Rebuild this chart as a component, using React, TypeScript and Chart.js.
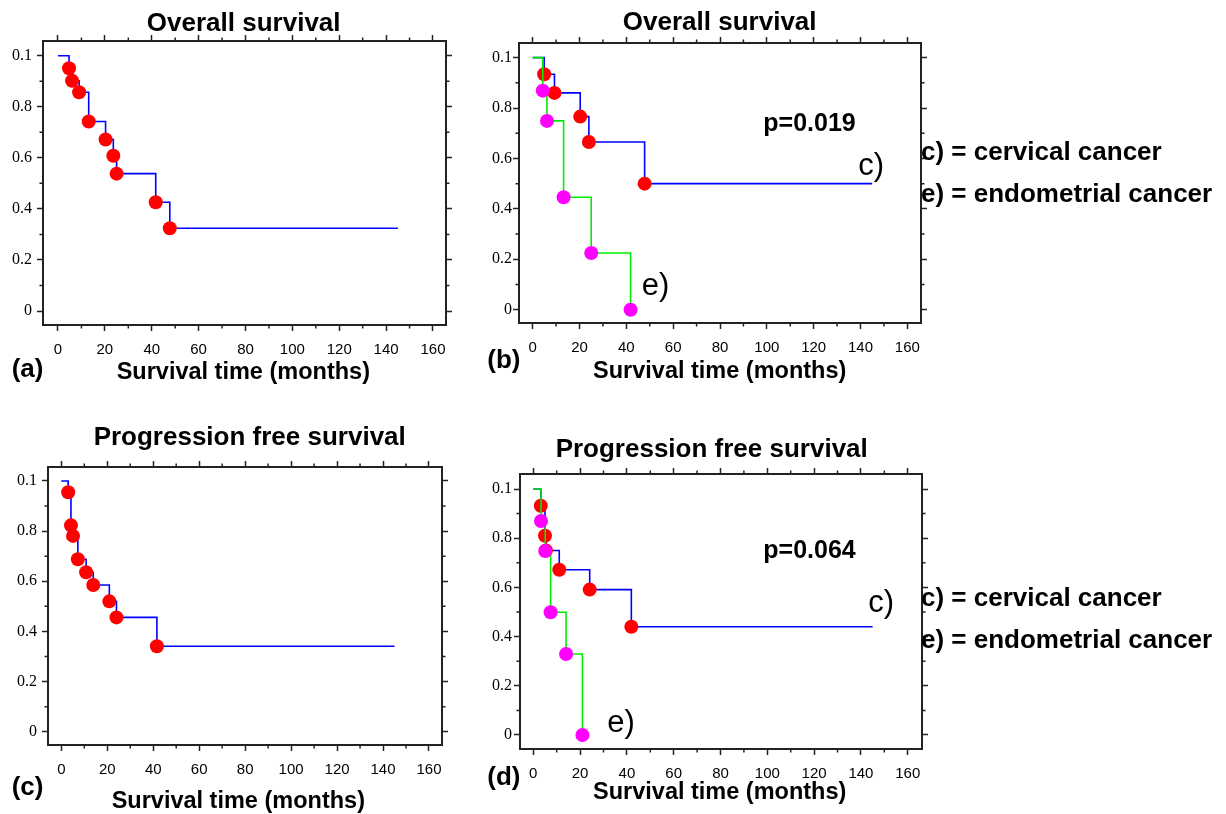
import React, { useEffect, useRef } from 'react';
import { Chart, registerables } from 'chart.js';

Chart.register(...registerables);

// ---------- data ----------
const xTickValues = [0, 20, 40, 60, 80, 100, 120, 140, 160];
const xTickLabels = ['0', '20', '40', '60', '80', '100', '120', '140', '160'];
const xMinorTicks = [10, 30, 50, 70, 90, 110, 130, 150];
const yTickValues = [0, 0.2, 0.4, 0.6, 0.8, 1];
const yTickLabels = ['0', '0.2', '0.4', '0.6', '0.8', '0.1'];
const yMinorTicks = [0.1, 0.3, 0.5, 0.7, 0.9];
const followUpEnd = 145;

// (a) overall survival, all patients
const osAllTimes = [4.7, 6.0, 9.0, 13.1, 20.3, 23.6, 25.0, 41.7, 47.7];
const osAllSurv = [0.951, 0.902, 0.857, 0.742, 0.672, 0.608, 0.538, 0.426, 0.324];
// (b) overall survival by group
const osCervTimes = [4.9, 9.3, 20.3, 24.0, 47.8];
const osCervSurv = [0.934, 0.86, 0.766, 0.665, 0.5];
const osEndoTimes = [4.3, 6.1, 13.2, 25.0, 41.8];
const osEndoSurv = [0.869, 0.749, 0.446, 0.225, 0];
// (c) progression free survival, all patients
const pfsAllTimes = [3.0, 4.2, 5.1, 7.2, 10.8, 13.9, 20.9, 24.0, 41.6];
const pfsAllSurv = [0.955, 0.823, 0.781, 0.688, 0.636, 0.585, 0.52, 0.456, 0.341];
// (d) progression free survival by group
const pfsCervTimes = [3.2, 5.0, 5.4, 11.1, 24.1, 41.9];
const pfsCervSurv = [0.932, 0.81, 0.75, 0.672, 0.591, 0.44];
const pfsEndoTimes = [3.3, 5.1, 7.4, 14.0, 21.0];
const pfsEndoSurv = [0.87, 0.748, 0.499, 0.329, 0];

const panelTitles = ['Overall survival', 'Overall survival', 'Progression free survival', 'Progression free survival'];
const xAxisTitle = 'Survival time (months)';
const panelLetters = ['(a)', '(b)', '(c)', '(d)'];
const pValues = ['p=0.019', 'p=0.064'];
const groupTags = ['c)', 'e)'];
const legendLines = ['c) = cervical cancer', 'e) = endometrial cancer'];

// ---------- styles ----------
const SANS = "'Liberation Sans', Arial, Helvetica, sans-serif";
const SERIF = "'Liberation Serif', 'Times New Roman', serif";
const AXIS_COLOR = '#222';
const BLUE = '#0000ff';
const GREEN = '#00ee00';
const RED = '#ff0000';
const MAGENTA = '#ff00ff';
const DOT_R = 7;

type Pt = { x: number; y: number };

function kmData(times: number[], surv: number[], tail: boolean): Pt[] {
  const pts: Pt[] = [{ x: 0, y: 1 }];
  times.forEach((t, i) => pts.push({ x: t, y: surv[i] }));
  if (tail) pts.push({ x: followUpEnd, y: surv[surv.length - 1] });
  return pts;
}

function kmDataset(times: number[], surv: number[], tail: boolean, line: string, dot: string, order: number) {
  const n = times.length;
  return {
    data: kmData(times, surv, tail),
    stepped: 'before' as const,
    borderColor: line,
    borderWidth: 1.6,
    backgroundColor: dot,
    pointBackgroundColor: dot,
    pointBorderWidth: 0,
    pointBorderColor: dot,
    pointRadius: (ctx: any) => (ctx.dataIndex === 0 || ctx.dataIndex > n ? 0 : DOT_R),
    pointHoverRadius: (ctx: any) => (ctx.dataIndex === 0 || ctx.dataIndex > n ? 0 : DOT_R),
    fill: false,
    order,
  };
}

type PanelCfg = {
  left: number; top: number; width: number; height: number;
  area: { left: number; right: number; top: number; bottom: number };
  x: [number, number]; y: [number, number];
  yPad: number;
  idx: number;
  title: Pt; xTitle: Pt; letter: Pt;
  p?: Pt; cTag?: Pt; eTag?: Pt; legend?: { x: number; y1: number; y2: number };
  datasets: any[];
};

const panels: PanelCfg[] = [
  {
    idx: 0, left: 0, top: 0, width: 470, height: 400,
    area: { left: 43, right: 446, top: 41, bottom: 325 },
    x: [-6.4, 165.55], y: [-0.0548, 1.0576], yPad: 5,
    title: { x: 243.7, y: 30.5 }, xTitle: { x: 243.3, y: 379 }, letter: { x: 11.7, y: 377 },
    datasets: [kmDataset(osAllTimes, osAllSurv, true, BLUE, RED, 1)],
  },
  {
    idx: 1, left: 470, top: 0, width: 756, height: 400,
    area: { left: 49, right: 451, top: 43, bottom: 323 },
    x: [-5.85, 165.85], y: [-0.0528, 1.058], yPad: 1,
    title: { x: 249.7, y: 30 }, xTitle: { x: 249.7, y: 378 }, letter: { x: 17.3, y: 368 },
    p: { x: 293.3, y: 130.7 }, cTag: { x: 388.3, y: 175 }, eTag: { x: 171.7, y: 295 },
    legend: { x: 451, y1: 152.5, y2: 195 },
    datasets: [
      kmDataset(osCervTimes, osCervSurv, true, BLUE, RED, 1),
      kmDataset(osEndoTimes, osEndoSurv, false, GREEN, MAGENTA, 0),
    ],
  },
  {
    idx: 2, left: 0, top: 400, width: 470, height: 414,
    area: { left: 48, right: 442, top: 67, bottom: 345 },
    x: [-5.79, 165.66], y: [-0.053, 1.0558], yPad: 5,
    title: { x: 249.7, y: 45 }, xTitle: { x: 238.3, y: 408 }, letter: { x: 11.7, y: 395 },
    datasets: [kmDataset(pfsAllTimes, pfsAllSurv, true, BLUE, RED, 1)],
  },
  {
    idx: 3, left: 470, top: 400, width: 756, height: 414,
    area: { left: 50, right: 452, top: 74, bottom: 349 },
    x: [-5.68, 166.1], y: [-0.057, 1.061], yPad: 2,
    title: { x: 241.7, y: 57.3 }, xTitle: { x: 249.7, y: 399.3 }, letter: { x: 17.3, y: 385 },
    p: { x: 293.3, y: 158.3 }, cTag: { x: 398.3, y: 211.7 }, eTag: { x: 137.3, y: 331.7 },
    legend: { x: 451, y1: 199, y2: 241 },
    datasets: [
      kmDataset(pfsCervTimes, pfsCervSurv, true, BLUE, RED, 1),
      kmDataset(pfsEndoTimes, pfsEndoSurv, false, GREEN, MAGENTA, 0),
    ],
  },
];

function setTicks(values: number[]) {
  return (scale: any) => {
    scale.ticks = values.map((v) => ({ value: v }));
  };
}

function fixSize(kind: 'w' | 'h', size: number) {
  return (scale: any) => {
    if (kind === 'w') scale.width = size;
    else scale.height = size;
    scale.paddingLeft = 0;
    scale.paddingRight = 0;
    scale.paddingTop = 0;
    scale.paddingBottom = 0;
  };
}

const gridOpts = {
  display: true,
  drawOnChartArea: false,
  drawTicks: true,
  tickLength: 6,
  tickWidth: 1.5,
  tickColor: AXIS_COLOR,
  color: AXIS_COLOR,
};
const borderOpts = { display: true, width: 2, color: AXIS_COLOR };

function buildOptions(cfg: PanelCfg): any {
  const a = cfg.area;
  return {
    responsive: false,
    maintainAspectRatio: false,
    animation: false,
    devicePixelRatio: 1,
    layout: { padding: 0 },
    events: [],
    plugins: { legend: { display: false }, title: { display: false }, tooltip: { enabled: false } },
    scales: {
      x: {
        type: 'linear', position: 'bottom', min: cfg.x[0], max: cfg.x[1],
        afterBuildTicks: setTicks(xTickValues),
        afterFit: fixSize('h', cfg.height - a.bottom),
        grid: gridOpts, border: borderOpts,
        ticks: {
          autoSkip: false, maxRotation: 0, minRotation: 0, padding: 10, color: '#000',
          font: { family: SANS, size: 15 },
          callback: (_v: number, i: number) => xTickLabels[i],
        },
      },
      x2: {
        type: 'linear', axis: 'x', position: 'top', min: cfg.x[0], max: cfg.x[1],
        afterBuildTicks: setTicks(xTickValues),
        afterFit: fixSize('h', a.top),
        grid: gridOpts, border: borderOpts,
        ticks: { display: false },
      },
      y: {
        type: 'linear', position: 'left', min: cfg.y[0], max: cfg.y[1],
        afterBuildTicks: setTicks(yTickValues),
        afterFit: fixSize('w', a.left),
        grid: gridOpts, border: borderOpts,
        ticks: {
          autoSkip: false, padding: cfg.yPad, color: '#000',
          font: { family: SERIF, size: 16 },
          callback: (_v: number, i: number) => yTickLabels[i],
        },
      },
      y2: {
        type: 'linear', axis: 'y', position: 'right', min: cfg.y[0], max: cfg.y[1],
        afterBuildTicks: setTicks(yTickValues),
        afterFit: fixSize('w', cfg.width - a.right),
        grid: gridOpts, border: borderOpts,
        ticks: { display: false },
      },
    },
  };
}

function makeDecorPlugin(cfg: PanelCfg) {
  return {
    id: 'decor' + cfg.idx,
    afterDraw(chart: any) {
      const ctx: CanvasRenderingContext2D = chart.ctx;
      const ca = chart.chartArea;
      const xs = chart.scales.x;
      const ys = chart.scales.y;
      const minorLen = 3.5;
      ctx.save();
      // minor ticks
      ctx.strokeStyle = AXIS_COLOR;
      ctx.lineWidth = 1.5;
      ctx.beginPath();
      xMinorTicks.forEach((v) => {
        const px = xs.getPixelForValue(v);
        ctx.moveTo(px, ca.bottom + 1);
        ctx.lineTo(px, ca.bottom + minorLen);
        ctx.moveTo(px, ca.top - 1);
        ctx.lineTo(px, ca.top - minorLen);
      });
      yMinorTicks.forEach((v) => {
        const py = ys.getPixelForValue(v);
        ctx.moveTo(ca.left - 1, py);
        ctx.lineTo(ca.left - minorLen, py);
        ctx.moveTo(ca.right + 1, py);
        ctx.lineTo(ca.right + minorLen, py);
      });
      ctx.stroke();

      ctx.fillStyle = '#000';
      ctx.textBaseline = 'alphabetic';
      // panel title
      ctx.font = `bold 26px ${SANS}`;
      ctx.textAlign = 'center';
      ctx.fillText(panelTitles[cfg.idx], cfg.title.x, cfg.title.y);
      // x axis title
      ctx.font = `bold 23.5px ${SANS}`;
      ctx.fillText(xAxisTitle, cfg.xTitle.x, cfg.xTitle.y);
      // panel letter
      ctx.font = `bold 26px ${SANS}`;
      ctx.textAlign = 'left';
      ctx.fillText(panelLetters[cfg.idx], cfg.letter.x, cfg.letter.y);

      const g = cfg.idx === 1 ? 0 : 1;
      if (cfg.p) {
        ctx.font = `bold 25px ${SANS}`;
        ctx.fillText(pValues[g], cfg.p.x, cfg.p.y);
      }
      if (cfg.cTag && cfg.eTag) {
        ctx.font = `31px ${SANS}`;
        ctx.fillText(groupTags[0], cfg.cTag.x, cfg.cTag.y);
        ctx.fillText(groupTags[1], cfg.eTag.x, cfg.eTag.y);
      }
      if (cfg.legend) {
        ctx.font = `bold 26px ${SANS}`;
        ctx.textBaseline = 'middle';
        ctx.fillText(legendLines[0], cfg.legend.x, cfg.legend.y1);
        ctx.fillText(legendLines[1], cfg.legend.x, cfg.legend.y2);
      }
      ctx.restore();
    },
  };
}

function KMPanel({ cfg }: { cfg: PanelCfg }) {
  const ref = useRef<HTMLCanvasElement>(null);
  useEffect(() => {
    if (!ref.current) return;
    const chart = new Chart(ref.current, {
      type: 'line',
      data: { datasets: cfg.datasets },
      options: buildOptions(cfg),
      plugins: [makeDecorPlugin(cfg)],
    } as any);
    return () => chart.destroy();
  }, [cfg]);
  return (
    <canvas
      ref={ref}
      width={cfg.width}
      height={cfg.height}
      style={{ position: 'absolute', left: cfg.left, top: cfg.top, width: cfg.width, height: cfg.height }}
    />
  );
}

export default function App() {
  return (
    <div style={{ position: 'absolute', left: 0, top: 0, width: 1226, height: 814, background: '#fff', overflow: 'hidden' }}>
      {panels.map((p) => (
        <KMPanel key={p.idx} cfg={p} />
      ))}
    </div>
  );
}
